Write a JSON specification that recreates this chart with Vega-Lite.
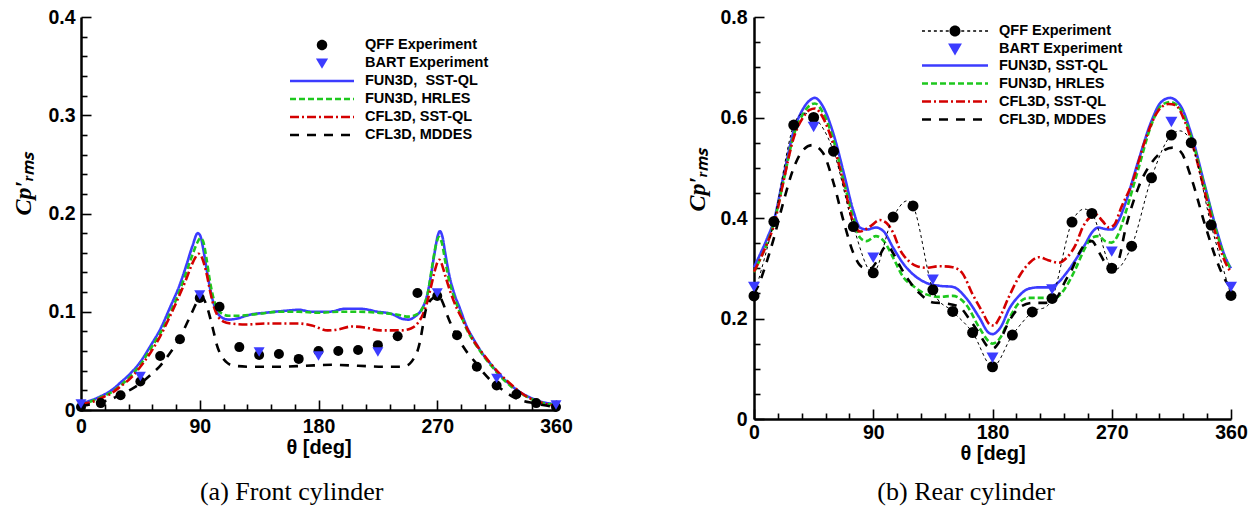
{
  "$schema": "https://vega.github.io/schema/vega-lite/v6.json",
  "background": "white",
  "padding": {"left": 11, "top": 7, "right": 5, "bottom": 5},
  "spacing": 112,
  "resolve": {
    "scale": {"stroke": "independent", "strokeDash": "independent", "fill": "independent", "shape": "independent", "color": "independent"},
    "legend": {"stroke": "independent", "strokeDash": "independent", "fill": "independent", "shape": "independent", "color": "independent"}
  },
  "config": {
    "view": {"stroke": null},
    "axis": {
      "domainColor": "black", "domainWidth": 2.5, "tickColor": "black", "tickWidth": 1.6,
      "labelFont": "Liberation Sans", "labelFontWeight": "bold", "labelFontSize": 19.5, "labelColor": "black",
      "titleColor": "black", "grid": false, "labelFlush": false, "labelOverlap": false, "labelBound": false
    },
    "legend": {"labelFont": "Liberation Sans", "labelFontWeight": "bold", "labelFontSize": 14.5, "labelColor": "black", "padding": 0},
    "title": {"font": "Liberation Serif", "fontSize": 26, "fontWeight": "normal", "color": "black"}
  },
  "datasets": {
    "frontCFD": [
      {"series":"FUN3D, SST-QL","theta":0,"cp":0.007},{"series":"FUN3D, SST-QL","theta":8,"cp":0.010},{"series":"FUN3D, SST-QL","theta":15,"cp":0.014},{"series":"FUN3D, SST-QL","theta":23,"cp":0.020},{"series":"FUN3D, SST-QL","theta":30,"cp":0.028},{"series":"FUN3D, SST-QL","theta":38,"cp":0.038},{"series":"FUN3D, SST-QL","theta":45,"cp":0.049},{"series":"FUN3D, SST-QL","theta":53,"cp":0.066},{"series":"FUN3D, SST-QL","theta":60,"cp":0.082},{"series":"FUN3D, SST-QL","theta":68,"cp":0.106},{"series":"FUN3D, SST-QL","theta":75,"cp":0.128},{"series":"FUN3D, SST-QL","theta":80,"cp":0.148},{"series":"FUN3D, SST-QL","theta":84.5,"cp":0.167},{"series":"FUN3D, SST-QL","theta":88.5,"cp":0.180},{"series":"FUN3D, SST-QL","theta":90.5,"cp":0.177},{"series":"FUN3D, SST-QL","theta":92.5,"cp":0.165},{"series":"FUN3D, SST-QL","theta":95,"cp":0.145},{"series":"FUN3D, SST-QL","theta":97.5,"cp":0.126},{"series":"FUN3D, SST-QL","theta":100,"cp":0.111},{"series":"FUN3D, SST-QL","theta":103,"cp":0.100},{"series":"FUN3D, SST-QL","theta":107,"cp":0.094},{"series":"FUN3D, SST-QL","theta":112,"cp":0.092},{"series":"FUN3D, SST-QL","theta":118,"cp":0.093},{"series":"FUN3D, SST-QL","theta":128,"cp":0.097},{"series":"FUN3D, SST-QL","theta":140,"cp":0.099},{"series":"FUN3D, SST-QL","theta":155,"cp":0.101},{"series":"FUN3D, SST-QL","theta":165,"cp":0.102},{"series":"FUN3D, SST-QL","theta":175,"cp":0.100},{"series":"FUN3D, SST-QL","theta":188,"cp":0.100},{"series":"FUN3D, SST-QL","theta":200,"cp":0.103},{"series":"FUN3D, SST-QL","theta":212,"cp":0.103},{"series":"FUN3D, SST-QL","theta":225,"cp":0.100},{"series":"FUN3D, SST-QL","theta":235,"cp":0.098},{"series":"FUN3D, SST-QL","theta":243,"cp":0.093},{"series":"FUN3D, SST-QL","theta":248,"cp":0.092},{"series":"FUN3D, SST-QL","theta":253,"cp":0.095},{"series":"FUN3D, SST-QL","theta":258,"cp":0.102},{"series":"FUN3D, SST-QL","theta":262,"cp":0.115},{"series":"FUN3D, SST-QL","theta":265,"cp":0.135},{"series":"FUN3D, SST-QL","theta":268,"cp":0.160},{"series":"FUN3D, SST-QL","theta":270.5,"cp":0.178},{"series":"FUN3D, SST-QL","theta":272,"cp":0.182},{"series":"FUN3D, SST-QL","theta":274,"cp":0.176},{"series":"FUN3D, SST-QL","theta":276,"cp":0.160},{"series":"FUN3D, SST-QL","theta":279,"cp":0.138},{"series":"FUN3D, SST-QL","theta":283,"cp":0.118},{"series":"FUN3D, SST-QL","theta":287,"cp":0.104},{"series":"FUN3D, SST-QL","theta":292,"cp":0.086},{"series":"FUN3D, SST-QL","theta":298,"cp":0.071},{"series":"FUN3D, SST-QL","theta":304,"cp":0.058},{"series":"FUN3D, SST-QL","theta":311,"cp":0.046},{"series":"FUN3D, SST-QL","theta":318,"cp":0.035},{"series":"FUN3D, SST-QL","theta":326,"cp":0.025},{"series":"FUN3D, SST-QL","theta":333,"cp":0.018},{"series":"FUN3D, SST-QL","theta":340,"cp":0.013},{"series":"FUN3D, SST-QL","theta":350,"cp":0.008},{"series":"FUN3D, SST-QL","theta":360,"cp":0.006},
      {"series":"FUN3D, HRLES","theta":0,"cp":0.006},{"series":"FUN3D, HRLES","theta":8,"cp":0.009},{"series":"FUN3D, HRLES","theta":15,"cp":0.013},{"series":"FUN3D, HRLES","theta":23,"cp":0.018},{"series":"FUN3D, HRLES","theta":30,"cp":0.025},{"series":"FUN3D, HRLES","theta":38,"cp":0.035},{"series":"FUN3D, HRLES","theta":45,"cp":0.046},{"series":"FUN3D, HRLES","theta":53,"cp":0.063},{"series":"FUN3D, HRLES","theta":60,"cp":0.078},{"series":"FUN3D, HRLES","theta":68,"cp":0.100},{"series":"FUN3D, HRLES","theta":75,"cp":0.122},{"series":"FUN3D, HRLES","theta":80,"cp":0.141},{"series":"FUN3D, HRLES","theta":84.5,"cp":0.158},{"series":"FUN3D, HRLES","theta":88,"cp":0.170},{"series":"FUN3D, HRLES","theta":90.5,"cp":0.175},{"series":"FUN3D, HRLES","theta":92.5,"cp":0.172},{"series":"FUN3D, HRLES","theta":95,"cp":0.155},{"series":"FUN3D, HRLES","theta":97.5,"cp":0.133},{"series":"FUN3D, HRLES","theta":100,"cp":0.116},{"series":"FUN3D, HRLES","theta":103,"cp":0.104},{"series":"FUN3D, HRLES","theta":107,"cp":0.098},{"series":"FUN3D, HRLES","theta":112,"cp":0.096},{"series":"FUN3D, HRLES","theta":120,"cp":0.096},{"series":"FUN3D, HRLES","theta":135,"cp":0.098},{"series":"FUN3D, HRLES","theta":150,"cp":0.100},{"series":"FUN3D, HRLES","theta":165,"cp":0.100},{"series":"FUN3D, HRLES","theta":180,"cp":0.099},{"series":"FUN3D, HRLES","theta":195,"cp":0.100},{"series":"FUN3D, HRLES","theta":210,"cp":0.100},{"series":"FUN3D, HRLES","theta":225,"cp":0.099},{"series":"FUN3D, HRLES","theta":240,"cp":0.097},{"series":"FUN3D, HRLES","theta":248,"cp":0.095},{"series":"FUN3D, HRLES","theta":254,"cp":0.097},{"series":"FUN3D, HRLES","theta":259,"cp":0.104},{"series":"FUN3D, HRLES","theta":263,"cp":0.120},{"series":"FUN3D, HRLES","theta":266,"cp":0.145},{"series":"FUN3D, HRLES","theta":269,"cp":0.168},{"series":"FUN3D, HRLES","theta":271.5,"cp":0.176},{"series":"FUN3D, HRLES","theta":273.5,"cp":0.170},{"series":"FUN3D, HRLES","theta":276,"cp":0.152},{"series":"FUN3D, HRLES","theta":279,"cp":0.132},{"series":"FUN3D, HRLES","theta":283,"cp":0.114},{"series":"FUN3D, HRLES","theta":287,"cp":0.100},{"series":"FUN3D, HRLES","theta":292,"cp":0.083},{"series":"FUN3D, HRLES","theta":298,"cp":0.069},{"series":"FUN3D, HRLES","theta":304,"cp":0.057},{"series":"FUN3D, HRLES","theta":311,"cp":0.045},{"series":"FUN3D, HRLES","theta":318,"cp":0.034},{"series":"FUN3D, HRLES","theta":326,"cp":0.024},{"series":"FUN3D, HRLES","theta":333,"cp":0.017},{"series":"FUN3D, HRLES","theta":340,"cp":0.012},{"series":"FUN3D, HRLES","theta":350,"cp":0.007},{"series":"FUN3D, HRLES","theta":360,"cp":0.005},
      {"series":"CFL3D, SST-QL","theta":0,"cp":0.006},{"series":"CFL3D, SST-QL","theta":8,"cp":0.008},{"series":"CFL3D, SST-QL","theta":15,"cp":0.012},{"series":"CFL3D, SST-QL","theta":23,"cp":0.017},{"series":"CFL3D, SST-QL","theta":30,"cp":0.024},{"series":"CFL3D, SST-QL","theta":38,"cp":0.033},{"series":"CFL3D, SST-QL","theta":45,"cp":0.044},{"series":"CFL3D, SST-QL","theta":53,"cp":0.059},{"series":"CFL3D, SST-QL","theta":60,"cp":0.075},{"series":"CFL3D, SST-QL","theta":68,"cp":0.097},{"series":"CFL3D, SST-QL","theta":75,"cp":0.118},{"series":"CFL3D, SST-QL","theta":80,"cp":0.134},{"series":"CFL3D, SST-QL","theta":84,"cp":0.148},{"series":"CFL3D, SST-QL","theta":87,"cp":0.156},{"series":"CFL3D, SST-QL","theta":89,"cp":0.159},{"series":"CFL3D, SST-QL","theta":91,"cp":0.157},{"series":"CFL3D, SST-QL","theta":93,"cp":0.150},{"series":"CFL3D, SST-QL","theta":95.5,"cp":0.137},{"series":"CFL3D, SST-QL","theta":98,"cp":0.120},{"series":"CFL3D, SST-QL","theta":101,"cp":0.104},{"series":"CFL3D, SST-QL","theta":104,"cp":0.095},{"series":"CFL3D, SST-QL","theta":108,"cp":0.090},{"series":"CFL3D, SST-QL","theta":114,"cp":0.088},{"series":"CFL3D, SST-QL","theta":125,"cp":0.087},{"series":"CFL3D, SST-QL","theta":140,"cp":0.088},{"series":"CFL3D, SST-QL","theta":155,"cp":0.088},{"series":"CFL3D, SST-QL","theta":165,"cp":0.088},{"series":"CFL3D, SST-QL","theta":175,"cp":0.086},{"series":"CFL3D, SST-QL","theta":187,"cp":0.081},{"series":"CFL3D, SST-QL","theta":195,"cp":0.082},{"series":"CFL3D, SST-QL","theta":205,"cp":0.085},{"series":"CFL3D, SST-QL","theta":215,"cp":0.084},{"series":"CFL3D, SST-QL","theta":227,"cp":0.081},{"series":"CFL3D, SST-QL","theta":243,"cp":0.081},{"series":"CFL3D, SST-QL","theta":250,"cp":0.083},{"series":"CFL3D, SST-QL","theta":255,"cp":0.088},{"series":"CFL3D, SST-QL","theta":259,"cp":0.097},{"series":"CFL3D, SST-QL","theta":262,"cp":0.108},{"series":"CFL3D, SST-QL","theta":265,"cp":0.124},{"series":"CFL3D, SST-QL","theta":268,"cp":0.141},{"series":"CFL3D, SST-QL","theta":270,"cp":0.150},{"series":"CFL3D, SST-QL","theta":271.5,"cp":0.153},{"series":"CFL3D, SST-QL","theta":273,"cp":0.150},{"series":"CFL3D, SST-QL","theta":276,"cp":0.137},{"series":"CFL3D, SST-QL","theta":280,"cp":0.120},{"series":"CFL3D, SST-QL","theta":285,"cp":0.103},{"series":"CFL3D, SST-QL","theta":290,"cp":0.090},{"series":"CFL3D, SST-QL","theta":296,"cp":0.074},{"series":"CFL3D, SST-QL","theta":302,"cp":0.062},{"series":"CFL3D, SST-QL","theta":310,"cp":0.048},{"series":"CFL3D, SST-QL","theta":318,"cp":0.036},{"series":"CFL3D, SST-QL","theta":326,"cp":0.026},{"series":"CFL3D, SST-QL","theta":333,"cp":0.018},{"series":"CFL3D, SST-QL","theta":340,"cp":0.012},{"series":"CFL3D, SST-QL","theta":350,"cp":0.007},{"series":"CFL3D, SST-QL","theta":360,"cp":0.004},
      {"series":"CFL3D, MDDES","theta":0,"cp":0.004},{"series":"CFL3D, MDDES","theta":8,"cp":0.006},{"series":"CFL3D, MDDES","theta":15,"cp":0.008},{"series":"CFL3D, MDDES","theta":23,"cp":0.011},{"series":"CFL3D, MDDES","theta":30,"cp":0.016},{"series":"CFL3D, MDDES","theta":38,"cp":0.021},{"series":"CFL3D, MDDES","theta":45,"cp":0.027},{"series":"CFL3D, MDDES","theta":53,"cp":0.036},{"series":"CFL3D, MDDES","theta":60,"cp":0.045},{"series":"CFL3D, MDDES","theta":68,"cp":0.059},{"series":"CFL3D, MDDES","theta":75,"cp":0.074},{"series":"CFL3D, MDDES","theta":83,"cp":0.096},{"series":"CFL3D, MDDES","theta":88,"cp":0.110},{"series":"CFL3D, MDDES","theta":91,"cp":0.115},{"series":"CFL3D, MDDES","theta":93,"cp":0.113},{"series":"CFL3D, MDDES","theta":96,"cp":0.103},{"series":"CFL3D, MDDES","theta":99,"cp":0.088},{"series":"CFL3D, MDDES","theta":101,"cp":0.077},{"series":"CFL3D, MDDES","theta":103,"cp":0.066},{"series":"CFL3D, MDDES","theta":106,"cp":0.056},{"series":"CFL3D, MDDES","theta":110,"cp":0.049},{"series":"CFL3D, MDDES","theta":116,"cp":0.045},{"series":"CFL3D, MDDES","theta":130,"cp":0.044},{"series":"CFL3D, MDDES","theta":150,"cp":0.044},{"series":"CFL3D, MDDES","theta":170,"cp":0.045},{"series":"CFL3D, MDDES","theta":190,"cp":0.046},{"series":"CFL3D, MDDES","theta":210,"cp":0.045},{"series":"CFL3D, MDDES","theta":230,"cp":0.044},{"series":"CFL3D, MDDES","theta":242,"cp":0.044},{"series":"CFL3D, MDDES","theta":248,"cp":0.046},{"series":"CFL3D, MDDES","theta":252,"cp":0.052},{"series":"CFL3D, MDDES","theta":255,"cp":0.060},{"series":"CFL3D, MDDES","theta":257,"cp":0.070},{"series":"CFL3D, MDDES","theta":259,"cp":0.085},{"series":"CFL3D, MDDES","theta":261,"cp":0.100},{"series":"CFL3D, MDDES","theta":264,"cp":0.110},{"series":"CFL3D, MDDES","theta":268,"cp":0.115},{"series":"CFL3D, MDDES","theta":271,"cp":0.117},{"series":"CFL3D, MDDES","theta":274,"cp":0.110},{"series":"CFL3D, MDDES","theta":278,"cp":0.095},{"series":"CFL3D, MDDES","theta":283,"cp":0.080},{"series":"CFL3D, MDDES","theta":288,"cp":0.068},{"series":"CFL3D, MDDES","theta":293,"cp":0.058},{"series":"CFL3D, MDDES","theta":298,"cp":0.050},{"series":"CFL3D, MDDES","theta":305,"cp":0.038},{"series":"CFL3D, MDDES","theta":313,"cp":0.027},{"series":"CFL3D, MDDES","theta":320,"cp":0.020},{"series":"CFL3D, MDDES","theta":328,"cp":0.013},{"series":"CFL3D, MDDES","theta":336,"cp":0.009},{"series":"CFL3D, MDDES","theta":343,"cp":0.007},{"series":"CFL3D, MDDES","theta":350,"cp":0.005},{"series":"CFL3D, MDDES","theta":360,"cp":0.003}
    ],
    "frontQFF": [
      {"series":"QFF Experiment","theta":0,"cp":0.003},{"series":"QFF Experiment","theta":15,"cp":0.007},{"series":"QFF Experiment","theta":30,"cp":0.015},{"series":"QFF Experiment","theta":45,"cp":0.029},{"series":"QFF Experiment","theta":60,"cp":0.055},{"series":"QFF Experiment","theta":75,"cp":0.072},{"series":"QFF Experiment","theta":90,"cp":0.114},{"series":"QFF Experiment","theta":105,"cp":0.105},{"series":"QFF Experiment","theta":120,"cp":0.064},{"series":"QFF Experiment","theta":135,"cp":0.056},{"series":"QFF Experiment","theta":150,"cp":0.057},{"series":"QFF Experiment","theta":165,"cp":0.052},{"series":"QFF Experiment","theta":180,"cp":0.060},{"series":"QFF Experiment","theta":195,"cp":0.060},{"series":"QFF Experiment","theta":210,"cp":0.061},{"series":"QFF Experiment","theta":225,"cp":0.066},{"series":"QFF Experiment","theta":240,"cp":0.075},{"series":"QFF Experiment","theta":255,"cp":0.119},{"series":"QFF Experiment","theta":270,"cp":0.116},{"series":"QFF Experiment","theta":285,"cp":0.076},{"series":"QFF Experiment","theta":300,"cp":0.044},{"series":"QFF Experiment","theta":315,"cp":0.025},{"series":"QFF Experiment","theta":330,"cp":0.016},{"series":"QFF Experiment","theta":345,"cp":0.007},{"series":"QFF Experiment","theta":360,"cp":0.003}
    ],
    "frontBART": [
      {"series":"BART Experiment","theta":0,"cp":0.006},{"series":"BART Experiment","theta":45,"cp":0.034},{"series":"BART Experiment","theta":90,"cp":0.117},{"series":"BART Experiment","theta":135,"cp":0.059},{"series":"BART Experiment","theta":180,"cp":0.055},{"series":"BART Experiment","theta":225,"cp":0.059},{"series":"BART Experiment","theta":270,"cp":0.119},{"series":"BART Experiment","theta":315,"cp":0.032},{"series":"BART Experiment","theta":360,"cp":0.005}
    ],
    "rearCFD": [
      {"series":"FUN3D, SST-QL","theta":0,"cp":0.302},{"series":"FUN3D, SST-QL","theta":5,"cp":0.33},{"series":"FUN3D, SST-QL","theta":10,"cp":0.36},{"series":"FUN3D, SST-QL","theta":15,"cp":0.395},{"series":"FUN3D, SST-QL","theta":22,"cp":0.48},{"series":"FUN3D, SST-QL","theta":30,"cp":0.573},{"series":"FUN3D, SST-QL","theta":37,"cp":0.617},{"series":"FUN3D, SST-QL","theta":42,"cp":0.634},{"series":"FUN3D, SST-QL","theta":46,"cp":0.639},{"series":"FUN3D, SST-QL","theta":52,"cp":0.622},{"series":"FUN3D, SST-QL","theta":60,"cp":0.567},{"series":"FUN3D, SST-QL","theta":68,"cp":0.487},{"series":"FUN3D, SST-QL","theta":75,"cp":0.414},{"series":"FUN3D, SST-QL","theta":80,"cp":0.381},{"series":"FUN3D, SST-QL","theta":85,"cp":0.377},{"series":"FUN3D, SST-QL","theta":92,"cp":0.381},{"series":"FUN3D, SST-QL","theta":98,"cp":0.373},{"series":"FUN3D, SST-QL","theta":105,"cp":0.341},{"series":"FUN3D, SST-QL","theta":113,"cp":0.308},{"series":"FUN3D, SST-QL","theta":120,"cp":0.288},{"series":"FUN3D, SST-QL","theta":130,"cp":0.271},{"series":"FUN3D, SST-QL","theta":140,"cp":0.265},{"series":"FUN3D, SST-QL","theta":150,"cp":0.263},{"series":"FUN3D, SST-QL","theta":160,"cp":0.241},{"series":"FUN3D, SST-QL","theta":170,"cp":0.202},{"series":"FUN3D, SST-QL","theta":177,"cp":0.172},{"series":"FUN3D, SST-QL","theta":180,"cp":0.169},{"series":"FUN3D, SST-QL","theta":186,"cp":0.182},{"series":"FUN3D, SST-QL","theta":193,"cp":0.221},{"series":"FUN3D, SST-QL","theta":200,"cp":0.245},{"series":"FUN3D, SST-QL","theta":207,"cp":0.259},{"series":"FUN3D, SST-QL","theta":215,"cp":0.262},{"series":"FUN3D, SST-QL","theta":222,"cp":0.262},{"series":"FUN3D, SST-QL","theta":228,"cp":0.268},{"series":"FUN3D, SST-QL","theta":235,"cp":0.288},{"series":"FUN3D, SST-QL","theta":242,"cp":0.314},{"series":"FUN3D, SST-QL","theta":250,"cp":0.348},{"series":"FUN3D, SST-QL","theta":255,"cp":0.371},{"series":"FUN3D, SST-QL","theta":260,"cp":0.381},{"series":"FUN3D, SST-QL","theta":265,"cp":0.378},{"series":"FUN3D, SST-QL","theta":270,"cp":0.377},{"series":"FUN3D, SST-QL","theta":275,"cp":0.394},{"series":"FUN3D, SST-QL","theta":280,"cp":0.427},{"series":"FUN3D, SST-QL","theta":290,"cp":0.513},{"series":"FUN3D, SST-QL","theta":300,"cp":0.593},{"series":"FUN3D, SST-QL","theta":307,"cp":0.63},{"series":"FUN3D, SST-QL","theta":314,"cp":0.639},{"series":"FUN3D, SST-QL","theta":322,"cp":0.623},{"series":"FUN3D, SST-QL","theta":330,"cp":0.567},{"series":"FUN3D, SST-QL","theta":340,"cp":0.467},{"series":"FUN3D, SST-QL","theta":350,"cp":0.368},{"series":"FUN3D, SST-QL","theta":356,"cp":0.32},{"series":"FUN3D, SST-QL","theta":360,"cp":0.3},
      {"series":"FUN3D, HRLES","theta":0,"cp":0.292},{"series":"FUN3D, HRLES","theta":5,"cp":0.32},{"series":"FUN3D, HRLES","theta":10,"cp":0.35},{"series":"FUN3D, HRLES","theta":15,"cp":0.39},{"series":"FUN3D, HRLES","theta":22,"cp":0.47},{"series":"FUN3D, HRLES","theta":30,"cp":0.565},{"series":"FUN3D, HRLES","theta":37,"cp":0.607},{"series":"FUN3D, HRLES","theta":42,"cp":0.624},{"series":"FUN3D, HRLES","theta":46,"cp":0.628},{"series":"FUN3D, HRLES","theta":52,"cp":0.61},{"series":"FUN3D, HRLES","theta":60,"cp":0.555},{"series":"FUN3D, HRLES","theta":68,"cp":0.47},{"series":"FUN3D, HRLES","theta":75,"cp":0.4},{"series":"FUN3D, HRLES","theta":80,"cp":0.361},{"series":"FUN3D, HRLES","theta":85,"cp":0.354},{"series":"FUN3D, HRLES","theta":92,"cp":0.364},{"series":"FUN3D, HRLES","theta":98,"cp":0.354},{"series":"FUN3D, HRLES","theta":105,"cp":0.321},{"series":"FUN3D, HRLES","theta":113,"cp":0.281},{"series":"FUN3D, HRLES","theta":120,"cp":0.265},{"series":"FUN3D, HRLES","theta":130,"cp":0.248},{"series":"FUN3D, HRLES","theta":140,"cp":0.243},{"series":"FUN3D, HRLES","theta":150,"cp":0.245},{"series":"FUN3D, HRLES","theta":160,"cp":0.228},{"series":"FUN3D, HRLES","theta":170,"cp":0.182},{"series":"FUN3D, HRLES","theta":177,"cp":0.155},{"series":"FUN3D, HRLES","theta":180,"cp":0.15},{"series":"FUN3D, HRLES","theta":186,"cp":0.162},{"series":"FUN3D, HRLES","theta":193,"cp":0.202},{"series":"FUN3D, HRLES","theta":200,"cp":0.231},{"series":"FUN3D, HRLES","theta":207,"cp":0.241},{"series":"FUN3D, HRLES","theta":215,"cp":0.241},{"series":"FUN3D, HRLES","theta":222,"cp":0.241},{"series":"FUN3D, HRLES","theta":228,"cp":0.242},{"series":"FUN3D, HRLES","theta":235,"cp":0.261},{"series":"FUN3D, HRLES","theta":242,"cp":0.295},{"series":"FUN3D, HRLES","theta":250,"cp":0.341},{"series":"FUN3D, HRLES","theta":255,"cp":0.361},{"series":"FUN3D, HRLES","theta":260,"cp":0.364},{"series":"FUN3D, HRLES","theta":265,"cp":0.354},{"series":"FUN3D, HRLES","theta":270,"cp":0.351},{"series":"FUN3D, HRLES","theta":275,"cp":0.368},{"series":"FUN3D, HRLES","theta":280,"cp":0.407},{"series":"FUN3D, HRLES","theta":290,"cp":0.497},{"series":"FUN3D, HRLES","theta":300,"cp":0.586},{"series":"FUN3D, HRLES","theta":307,"cp":0.623},{"series":"FUN3D, HRLES","theta":314,"cp":0.631},{"series":"FUN3D, HRLES","theta":322,"cp":0.616},{"series":"FUN3D, HRLES","theta":330,"cp":0.561},{"series":"FUN3D, HRLES","theta":340,"cp":0.464},{"series":"FUN3D, HRLES","theta":350,"cp":0.364},{"series":"FUN3D, HRLES","theta":356,"cp":0.318},{"series":"FUN3D, HRLES","theta":360,"cp":0.298},
      {"series":"CFL3D, SST-QL","theta":0,"cp":0.293},{"series":"CFL3D, SST-QL","theta":5,"cp":0.32},{"series":"CFL3D, SST-QL","theta":10,"cp":0.35},{"series":"CFL3D, SST-QL","theta":15,"cp":0.385},{"series":"CFL3D, SST-QL","theta":22,"cp":0.47},{"series":"CFL3D, SST-QL","theta":30,"cp":0.56},{"series":"CFL3D, SST-QL","theta":37,"cp":0.6},{"series":"CFL3D, SST-QL","theta":42,"cp":0.615},{"series":"CFL3D, SST-QL","theta":46,"cp":0.618},{"series":"CFL3D, SST-QL","theta":52,"cp":0.6},{"series":"CFL3D, SST-QL","theta":60,"cp":0.545},{"series":"CFL3D, SST-QL","theta":68,"cp":0.465},{"series":"CFL3D, SST-QL","theta":75,"cp":0.39},{"series":"CFL3D, SST-QL","theta":80,"cp":0.373},{"series":"CFL3D, SST-QL","theta":88,"cp":0.384},{"series":"CFL3D, SST-QL","theta":95,"cp":0.396},{"series":"CFL3D, SST-QL","theta":100,"cp":0.39},{"series":"CFL3D, SST-QL","theta":105,"cp":0.371},{"series":"CFL3D, SST-QL","theta":110,"cp":0.338},{"series":"CFL3D, SST-QL","theta":117,"cp":0.314},{"series":"CFL3D, SST-QL","theta":123,"cp":0.304},{"series":"CFL3D, SST-QL","theta":130,"cp":0.301},{"series":"CFL3D, SST-QL","theta":140,"cp":0.304},{"series":"CFL3D, SST-QL","theta":150,"cp":0.302},{"series":"CFL3D, SST-QL","theta":157,"cp":0.291},{"series":"CFL3D, SST-QL","theta":165,"cp":0.248},{"series":"CFL3D, SST-QL","theta":172,"cp":0.215},{"series":"CFL3D, SST-QL","theta":178,"cp":0.188},{"series":"CFL3D, SST-QL","theta":181,"cp":0.186},{"series":"CFL3D, SST-QL","theta":185,"cp":0.2},{"series":"CFL3D, SST-QL","theta":192,"cp":0.241},{"series":"CFL3D, SST-QL","theta":200,"cp":0.283},{"series":"CFL3D, SST-QL","theta":208,"cp":0.311},{"series":"CFL3D, SST-QL","theta":215,"cp":0.322},{"series":"CFL3D, SST-QL","theta":222,"cp":0.316},{"series":"CFL3D, SST-QL","theta":230,"cp":0.311},{"series":"CFL3D, SST-QL","theta":236,"cp":0.321},{"series":"CFL3D, SST-QL","theta":243,"cp":0.348},{"series":"CFL3D, SST-QL","theta":248,"cp":0.381},{"series":"CFL3D, SST-QL","theta":253,"cp":0.4},{"series":"CFL3D, SST-QL","theta":258,"cp":0.407},{"series":"CFL3D, SST-QL","theta":263,"cp":0.394},{"series":"CFL3D, SST-QL","theta":268,"cp":0.381},{"series":"CFL3D, SST-QL","theta":272,"cp":0.387},{"series":"CFL3D, SST-QL","theta":277,"cp":0.42},{"series":"CFL3D, SST-QL","theta":285,"cp":0.467},{"series":"CFL3D, SST-QL","theta":295,"cp":0.553},{"series":"CFL3D, SST-QL","theta":305,"cp":0.613},{"series":"CFL3D, SST-QL","theta":313,"cp":0.627},{"series":"CFL3D, SST-QL","theta":318,"cp":0.625},{"series":"CFL3D, SST-QL","theta":325,"cp":0.593},{"series":"CFL3D, SST-QL","theta":333,"cp":0.527},{"series":"CFL3D, SST-QL","theta":340,"cp":0.454},{"series":"CFL3D, SST-QL","theta":350,"cp":0.354},{"series":"CFL3D, SST-QL","theta":356,"cp":0.31},{"series":"CFL3D, SST-QL","theta":360,"cp":0.292},
      {"series":"CFL3D, MDDES","theta":0,"cp":0.25},{"series":"CFL3D, MDDES","theta":4,"cp":0.27},{"series":"CFL3D, MDDES","theta":8,"cp":0.3},{"series":"CFL3D, MDDES","theta":15,"cp":0.36},{"series":"CFL3D, MDDES","theta":22,"cp":0.43},{"series":"CFL3D, MDDES","theta":30,"cp":0.5},{"series":"CFL3D, MDDES","theta":37,"cp":0.535},{"series":"CFL3D, MDDES","theta":44,"cp":0.545},{"series":"CFL3D, MDDES","theta":52,"cp":0.53},{"series":"CFL3D, MDDES","theta":60,"cp":0.47},{"series":"CFL3D, MDDES","theta":68,"cp":0.39},{"series":"CFL3D, MDDES","theta":75,"cp":0.33},{"series":"CFL3D, MDDES","theta":82,"cp":0.302},{"series":"CFL3D, MDDES","theta":88,"cp":0.3},{"series":"CFL3D, MDDES","theta":93,"cp":0.315},{"series":"CFL3D, MDDES","theta":98,"cp":0.34},{"series":"CFL3D, MDDES","theta":101,"cp":0.345},{"series":"CFL3D, MDDES","theta":105,"cp":0.33},{"series":"CFL3D, MDDES","theta":110,"cp":0.305},{"series":"CFL3D, MDDES","theta":117,"cp":0.275},{"series":"CFL3D, MDDES","theta":125,"cp":0.25},{"series":"CFL3D, MDDES","theta":135,"cp":0.232},{"series":"CFL3D, MDDES","theta":145,"cp":0.23},{"series":"CFL3D, MDDES","theta":155,"cp":0.223},{"series":"CFL3D, MDDES","theta":163,"cp":0.197},{"series":"CFL3D, MDDES","theta":170,"cp":0.17},{"series":"CFL3D, MDDES","theta":176,"cp":0.145},{"series":"CFL3D, MDDES","theta":180,"cp":0.14},{"series":"CFL3D, MDDES","theta":185,"cp":0.153},{"series":"CFL3D, MDDES","theta":192,"cp":0.192},{"series":"CFL3D, MDDES","theta":200,"cp":0.221},{"series":"CFL3D, MDDES","theta":210,"cp":0.231},{"series":"CFL3D, MDDES","theta":220,"cp":0.231},{"series":"CFL3D, MDDES","theta":228,"cp":0.24},{"series":"CFL3D, MDDES","theta":235,"cp":0.275},{"series":"CFL3D, MDDES","theta":240,"cp":0.298},{"series":"CFL3D, MDDES","theta":245,"cp":0.328},{"series":"CFL3D, MDDES","theta":250,"cp":0.348},{"series":"CFL3D, MDDES","theta":255,"cp":0.354},{"series":"CFL3D, MDDES","theta":260,"cp":0.334},{"series":"CFL3D, MDDES","theta":265,"cp":0.311},{"series":"CFL3D, MDDES","theta":270,"cp":0.3},{"series":"CFL3D, MDDES","theta":275,"cp":0.315},{"series":"CFL3D, MDDES","theta":280,"cp":0.374},{"series":"CFL3D, MDDES","theta":290,"cp":0.46},{"series":"CFL3D, MDDES","theta":300,"cp":0.51},{"series":"CFL3D, MDDES","theta":308,"cp":0.532},{"series":"CFL3D, MDDES","theta":316,"cp":0.54},{"series":"CFL3D, MDDES","theta":322,"cp":0.532},{"series":"CFL3D, MDDES","theta":330,"cp":0.48},{"series":"CFL3D, MDDES","theta":340,"cp":0.39},{"series":"CFL3D, MDDES","theta":350,"cp":0.31},{"series":"CFL3D, MDDES","theta":356,"cp":0.275},{"series":"CFL3D, MDDES","theta":360,"cp":0.262}
    ],
    "rearQFF": [
      {"series":"QFF Experiment","theta":0,"cp":0.245},{"series":"QFF Experiment","theta":15,"cp":0.393},{"series":"QFF Experiment","theta":30,"cp":0.585},{"series":"QFF Experiment","theta":45,"cp":0.600},{"series":"QFF Experiment","theta":60,"cp":0.533},{"series":"QFF Experiment","theta":75,"cp":0.383},{"series":"QFF Experiment","theta":90,"cp":0.291},{"series":"QFF Experiment","theta":105,"cp":0.402},{"series":"QFF Experiment","theta":120,"cp":0.424},{"series":"QFF Experiment","theta":135,"cp":0.257},{"series":"QFF Experiment","theta":150,"cp":0.214},{"series":"QFF Experiment","theta":165,"cp":0.172},{"series":"QFF Experiment","theta":180,"cp":0.104},{"series":"QFF Experiment","theta":195,"cp":0.167},{"series":"QFF Experiment","theta":210,"cp":0.213},{"series":"QFF Experiment","theta":225,"cp":0.240},{"series":"QFF Experiment","theta":240,"cp":0.392},{"series":"QFF Experiment","theta":255,"cp":0.409},{"series":"QFF Experiment","theta":270,"cp":0.300},{"series":"QFF Experiment","theta":285,"cp":0.344},{"series":"QFF Experiment","theta":300,"cp":0.480},{"series":"QFF Experiment","theta":315,"cp":0.565},{"series":"QFF Experiment","theta":330,"cp":0.550},{"series":"QFF Experiment","theta":345,"cp":0.386},{"series":"QFF Experiment","theta":360,"cp":0.246}
    ],
    "rearBART": [
      {"series":"BART Experiment","theta":0,"cp":0.263},{"series":"BART Experiment","theta":45,"cp":0.581},{"series":"BART Experiment","theta":90,"cp":0.321},{"series":"BART Experiment","theta":135,"cp":0.277},{"series":"BART Experiment","theta":180,"cp":0.122},{"series":"BART Experiment","theta":225,"cp":0.258},{"series":"BART Experiment","theta":270,"cp":0.333},{"series":"BART Experiment","theta":315,"cp":0.591},{"series":"BART Experiment","theta":360,"cp":0.263}
    ]
  },
  "hconcat": [
    {
      "width": 475, "height": 393,
      "title": {"text": "(a) Front cylinder", "orient": "bottom", "anchor": "middle", "frame": "bounds", "offset": 21},
      "resolve": {"axis": {"x": "independent", "y": "independent"}},
      "layer": [
        {
          "data": {"name": "frontCFD"},
          "mark": {"type": "line", "strokeWidth": 2.6, "interpolate": "monotone"},
          "encoding": {
            "x": {"field": "theta", "type": "quantitative", "scale": {"domain": [0, 360], "nice": false},
              "axis": {"orient": "bottom", "values": [0, 90, 180, 270, 360], "format": "d", "tickSize": -10,
                "labelPadding": 17, "title": "θ [deg]", "titleFont": "Liberation Sans", "titleFontWeight": "bold", "titleFontSize": 20, "titlePadding": 2}},
            "y": {"field": "cp", "type": "quantitative", "scale": {"domain": [0, 0.4], "nice": false},
              "axis": {"orient": "left", "values": [0, 0.1, 0.2, 0.3, 0.4], "format": "~g", "tickSize": -10,
                "labelPadding": 16, "title": "Cp′ᵣₘₛ", "titleFont": "Liberation Serif", "titleFontStyle": "italic", "titleFontWeight": "bold", "titleFontSize": 24, "titleX": -46, "titleY": 167}},
            "stroke": {"field": "series", "type": "nominal",
              "scale": {"domain": ["FUN3D, SST-QL", "FUN3D, HRLES", "CFL3D, SST-QL", "CFL3D, MDDES"], "range": ["#3c3cff", "#1ec81e", "#d40000", "#000000"]},
              "legend": {"title": null, "orient": "none", "legendX": 207.5, "legendY": 57, "symbolType": "stroke", "symbolSize": 4096, "symbolStrokeWidth": 2.6, "labelOffset": 9.5, "clipHeight": 14, "rowPadding": 3.0,
                "labelExpr": "datum.label === 'FUN3D, SST-QL' ? 'FUN3D,\u00a0 SST-QL' : datum.label"}},
            "strokeDash": {"field": "series", "type": "nominal",
              "scale": {"domain": ["FUN3D, SST-QL", "FUN3D, HRLES", "CFL3D, SST-QL", "CFL3D, MDDES"], "range": [[1, 0], [6, 3], [9, 3, 2, 3], [9, 8]]},
              "legend": {"title": null, "orient": "none", "legendX": 207.5, "legendY": 57, "symbolType": "stroke", "symbolSize": 4096, "symbolStrokeWidth": 2.6, "labelOffset": 9.5, "clipHeight": 14, "rowPadding": 3.0,
                "labelExpr": "datum.label === 'FUN3D, SST-QL' ? 'FUN3D,\u00a0 SST-QL' : datum.label"}}
          }
        },
        {
          "data": {"name": "frontQFF"},
          "mark": {"type": "point", "shape": "circle", "filled": true, "color": "black", "size": 100, "opacity": 1, "strokeWidth": 0},
          "encoding": {
            "x": {"field": "theta", "type": "quantitative", "axis": {"orient": "bottom", "values": [18,36,54,72,108,126,144,162,198,216,234,252,288,306,324,342], "labels": false, "domain": false, "tickSize": -6, "title": null}},
            "y": {"field": "cp", "type": "quantitative", "axis": {"orient": "left", "values": [0.02,0.04,0.06,0.08,0.12,0.14,0.16,0.18,0.22,0.24,0.26,0.28,0.32,0.34,0.36,0.38], "labels": false, "domain": false, "tickSize": -6, "title": null}}
          }
        },
        {
          "data": {"name": "frontBART"},
          "mark": {"type": "point", "shape": "triangle-down", "filled": true, "color": "#3c3cff", "size": 121, "opacity": 1, "strokeWidth": 0},
          "encoding": {"x": {"field": "theta", "type": "quantitative", "axis": null}, "y": {"field": "cp", "type": "quantitative", "axis": null}}
        },
        {
          "data": {"name": "frontQFF"},
          "transform": [{"filter": "false"}],
          "mark": {"type": "point", "filled": true, "opacity": 1, "strokeWidth": 0},
          "encoding": {
            "fill": {"field": "series", "type": "nominal", "scale": {"domain": ["QFF Experiment", "BART Experiment"], "range": ["#000000", "#3c3cff"]},
              "legend": {"title": null, "orient": "none", "legendX": 209, "legendY": 21, "symbolSize": 4096, "symbolStrokeWidth": 0, "symbolOpacity": 1, "labelOffset": 11, "clipHeight": 14, "rowPadding": 3.2}},
            "shape": {"field": "series", "type": "nominal", "scale": {"domain": ["QFF Experiment", "BART Experiment"], "range": ["M-0.164,0A0.164,0.164,0,1,0,0.164,0A0.164,0.164,0,1,0,-0.164,0Z", "M-0.19,-0.15L0.19,-0.15L0,0.17Z"]},
              "legend": {"title": null, "orient": "none", "legendX": 209, "legendY": 21, "symbolSize": 4096, "symbolStrokeWidth": 0, "symbolOpacity": 1, "labelOffset": 11, "clipHeight": 14, "rowPadding": 3.2}}
          }
        }
      ]
    },
    {
      "width": 477, "height": 402,
      "title": {"text": "(b) Rear cylinder", "orient": "bottom", "anchor": "middle", "frame": "bounds", "offset": 15},
      "resolve": {"axis": {"x": "independent", "y": "independent"}},
      "layer": [
        {
          "data": {"name": "rearCFD"},
          "mark": {"type": "line", "strokeWidth": 2.6, "interpolate": "monotone"},
          "encoding": {
            "x": {"field": "theta", "type": "quantitative", "scale": {"domain": [0, 360], "nice": false},
              "axis": {"orient": "bottom", "values": [0, 90, 180, 270, 360], "format": "d", "tickSize": -10,
                "labelPadding": 14, "title": "θ [deg]", "titleFont": "Liberation Sans", "titleFontWeight": "bold", "titleFontSize": 20, "titlePadding": 2}},
            "y": {"field": "cp", "type": "quantitative", "scale": {"domain": [0, 0.8], "nice": false},
              "axis": {"orient": "left", "values": [0, 0.2, 0.4, 0.6, 0.8], "format": "~g", "tickSize": -10,
                "labelPadding": 17, "title": "Cp′ᵣₘₛ", "titleFont": "Liberation Serif", "titleFontStyle": "italic", "titleFontWeight": "bold", "titleFontSize": 24, "titleX": -45, "titleY": 163}},
            "stroke": {"field": "series", "type": "nominal",
              "scale": {"domain": ["FUN3D, SST-QL", "FUN3D, HRLES", "CFL3D, SST-QL", "CFL3D, MDDES"], "range": ["#3c3cff", "#1ec81e", "#d40000", "#000000"]},
              "legend": {"title": null, "orient": "none", "legendX": 166.5, "legendY": 41.5, "symbolType": "stroke", "symbolSize": 4356, "symbolStrokeWidth": 2.6, "labelOffset": 9.5, "clipHeight": 14, "rowPadding": 3.0}},
            "strokeDash": {"field": "series", "type": "nominal",
              "scale": {"domain": ["FUN3D, SST-QL", "FUN3D, HRLES", "CFL3D, SST-QL", "CFL3D, MDDES"], "range": [[1, 0], [6, 3], [9, 3, 2, 3], [9, 8]]},
              "legend": {"title": null, "orient": "none", "legendX": 166.5, "legendY": 41.5, "symbolType": "stroke", "symbolSize": 4356, "symbolStrokeWidth": 2.6, "labelOffset": 9.5, "clipHeight": 14, "rowPadding": 3.0}}
          }
        },
        {
          "data": {"name": "rearQFF"},
          "mark": {"type": "line", "strokeWidth": 1, "strokeDash": [3, 3], "color": "black", "interpolate": "cardinal"},
          "encoding": {"x": {"field": "theta", "type": "quantitative", "axis": null}, "y": {"field": "cp", "type": "quantitative", "axis": null}}
        },
        {
          "data": {"name": "rearQFF"},
          "mark": {"type": "point", "shape": "circle", "filled": true, "color": "black", "size": 121, "opacity": 1, "strokeWidth": 0},
          "encoding": {
            "x": {"field": "theta", "type": "quantitative", "axis": {"orient": "bottom", "values": [18,36,54,72,108,126,144,162,198,216,234,252,288,306,324,342], "labels": false, "domain": false, "tickSize": -6, "title": null}},
            "y": {"field": "cp", "type": "quantitative", "axis": {"orient": "left", "values": [0.05,0.1,0.15,0.25,0.3,0.35,0.45,0.5,0.55,0.65,0.7,0.75], "labels": false, "domain": false, "tickSize": -6, "title": null}}
          }
        },
        {
          "data": {"name": "rearBART"},
          "mark": {"type": "point", "shape": "triangle-down", "filled": true, "color": "#3c3cff", "size": 144, "opacity": 1, "strokeWidth": 0},
          "encoding": {"x": {"field": "theta", "type": "quantitative", "axis": null}, "y": {"field": "cp", "type": "quantitative", "axis": null}}
        },
        {
          "data": {"name": "rearQFF"},
          "transform": [{"filter": "false"}],
          "mark": {"type": "point", "filled": true, "opacity": 1, "strokeWidth": 0},
          "encoding": {
            "fill": {"field": "series", "type": "nominal", "scale": {"domain": ["QFF Experiment", "BART Experiment"], "range": ["#000000", "#3c3cff"]},
              "legend": {"title": null, "orient": "none", "legendX": 168, "legendY": 7, "symbolSize": 4356, "symbolStrokeWidth": 0, "symbolOpacity": 1, "labelOffset": 11, "clipHeight": 14, "rowPadding": 3.2}},
            "shape": {"field": "series", "type": "nominal", "scale": {"domain": ["QFF Experiment", "BART Experiment"], "range": ["M-1,-0.02h0.09v0.04h-0.09Z M-0.82,-0.02h0.09v0.04h-0.09Z M-0.64,-0.02h0.09v0.04h-0.09Z M-0.46,-0.02h0.09v0.04h-0.09Z M-0.28,-0.02h0.09v0.04h-0.09Z M0.19,-0.02h0.09v0.04h-0.09Z M0.37,-0.02h0.09v0.04h-0.09Z M0.55,-0.02h0.09v0.04h-0.09Z M0.73,-0.02h0.09v0.04h-0.09Z M0.91,-0.02h0.09v0.04h-0.09Z M-0.167,0A0.167,0.167,0,1,0,0.167,0A0.167,0.167,0,1,0,-0.167,0Z", "M-0.21,-0.17L0.21,-0.17L0,0.19Z"]},
              "legend": {"title": null, "orient": "none", "legendX": 168, "legendY": 7, "symbolSize": 4356, "symbolStrokeWidth": 0, "symbolOpacity": 1, "labelOffset": 11, "clipHeight": 14, "rowPadding": 3.2}}
          }
        }
      ]
    }
  ]
}
